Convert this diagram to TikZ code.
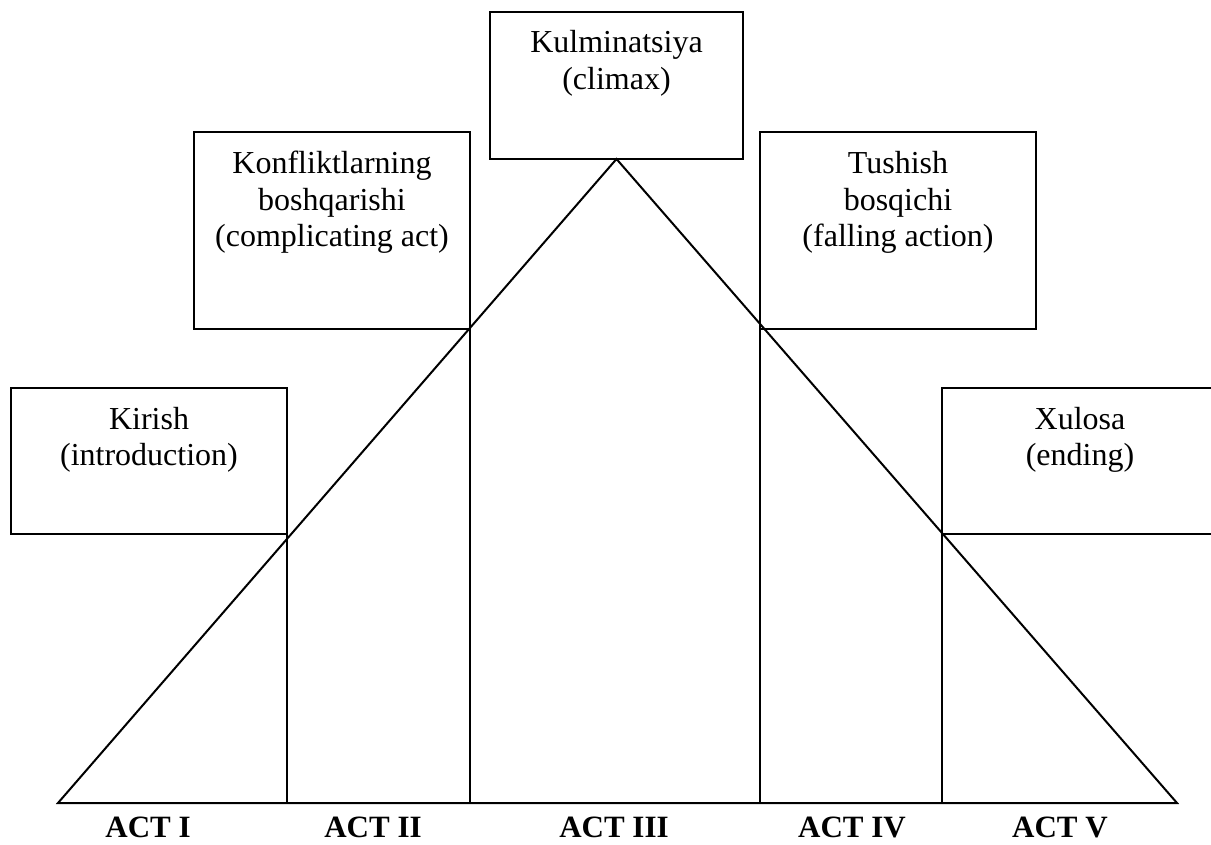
\documentclass[tikz,border=0pt]{standalone}
\usepackage{fontspec}
\setmainfont{Liberation Serif}
\begin{document}
\begin{tikzpicture}[x=1pt,y=-1pt,line width=2pt,
  box/.style={draw,line width=2pt,inner sep=0pt,outer sep=0pt,rectangle},
  txt/.style={inner sep=0pt,anchor=base,font=\fontsize{32}{36.5}\selectfont},
  act/.style={inner sep=0pt,anchor=base,font=\fontsize{31}{36}\selectfont\bfseries}]
\clip (0,0) rectangle (1211,845);
% boxes
\node[box,minimum width=276pt,minimum height=146pt] (b1) at (149,461) {};
\node[box,minimum width=276pt,minimum height=197pt] (b2) at (332,230.5) {};
\node[box,minimum width=253pt,minimum height=147pt] (b3) at (616.5,85.5) {};
\node[box,minimum width=276pt,minimum height=197pt] (b4) at (898,230.5) {};
\node[box,minimum width=276pt,minimum height=146pt] (b5) at (1080,461) {};
% texts
\node[txt] (t1) at (149,429) {\begin{tabular}[t]{@{}c@{}}Kirish\\(introduction)\end{tabular}};
\node[txt] (t2) at (332,174) {\begin{tabular}[t]{@{}c@{}}Konfliktlarning\\boshqarishi\\(complicating act)\end{tabular}};
\node[txt] (t3) at (616.5,53) {\begin{tabular}[t]{@{}c@{}}Kulminatsiya\\(climax)\end{tabular}};
\node[txt] (t4) at (898,174) {\begin{tabular}[t]{@{}c@{}}Tushish\\bosqichi\\(falling action)\end{tabular}};
\node[txt] (t5) at (1080,429) {\begin{tabular}[t]{@{}c@{}}Xulosa\\(ending)\end{tabular}};
% triangle
\coordinate (L) at (58,803);
\coordinate (A) at (616.5,159);
\coordinate (R) at (1177,803);
\draw (L) -- (A) -- (R) -- cycle;
% verticals
\draw (b1.south east) -- (b1.south east |- L);
\draw (b2.south east) -- (b2.south east |- L);
\draw (b4.south west) -- (b4.south west |- L);
\draw (b5.south west) -- (b5.south west |- L);
% act labels
\node[act] (a1) at (148,837) {ACT I};
\node[act] (a2) at (373,837) {ACT II};
\node[act] (a3) at (614,837) {ACT III};
\node[act] (a4) at (852,837) {ACT IV};
\node[act] (a5) at (1060,837) {ACT V};
\end{tikzpicture}
\end{document}
